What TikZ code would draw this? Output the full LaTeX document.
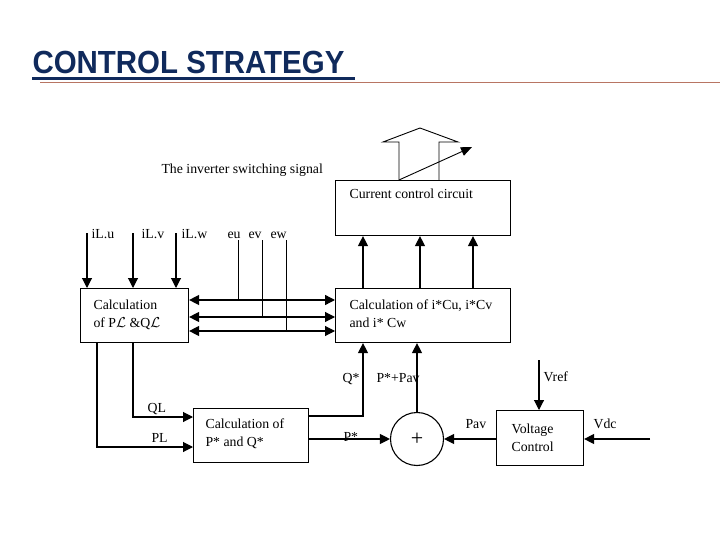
\documentclass[tikz,border=0pt]{standalone}
\usepackage{fontspec}
\setmainfont{Liberation Serif}
\newfontfamily\titlefont[FakeStretch=0.92]{Liberation Sans}
\usetikzlibrary{arrows.meta}
\definecolor{navy}{HTML}{102A5C}
\definecolor{rust}{HTML}{B87563}
\begin{document}
\begin{tikzpicture}[x=1pt,y=-1pt, line width=1.1pt,
  >={Triangle[length=10pt,width=10pt]},
  blk/.style={draw, line width=1.1pt, inner sep=0, anchor=north west},
  lbl/.style={font=\fontsize{13.8}{15}\selectfont, inner sep=0, anchor=base west},
  thin/.style={line width=0.9pt}]
\useasboundingbox (0,0) rectangle (720,540);
% title
\node[anchor=base west, text=navy, inner sep=0] (title) at (32,74)
  {\titlefont\bfseries\fontsize{32}{32}\selectfont CONTROL STRATEGY};
\draw[navy, line width=2.2pt] (32,78.5) -- (355,78.5);
\draw[rust, line width=1.4pt] (40,82.5) -- (720,82.5);
% boxes
\node[blk, minimum width=175pt, minimum height=55pt] (ccc) at (335,180) {};
\node[blk, minimum width=175pt, minimum height=54pt] (ic) at (335,288) {};
\node[blk, minimum width=108pt, minimum height=54pt] (pq) at (80,288) {};
\node[blk, minimum width=115pt, minimum height=54pt] (ps) at (193,408) {};
\node[blk, minimum width=87pt, minimum height=55pt] (vc) at (496,410) {};
\node[draw, circle, minimum size=53pt, inner sep=0, line width=1.1pt] (sum) at (417,439) {};
\node[inner sep=0, font=\fontsize{22}{22}\selectfont] (plus) at (sum.center) {+};
% box texts
\node[lbl] (tccc) at (349,199) {Current control circuit};
\node[lbl] (tic1) at (349,309) {Calculation of i*Cu, i*Cv};
\node[lbl] (tic2) at (349,327) {and i* Cw};
\node[lbl] (tpq1) at (93,309) {Calculation};
\node[lbl] (tpq2) at (93,327) {of P$\mathcal{L}$ \&Q$\mathcal{L}$};
\node[lbl] (tps1) at (205,428) {Calculation of};
\node[lbl] (tps2) at (205,446) {P* and Q*};
\node[lbl] (tvc1) at (511,433) {Voltage};
\node[lbl] (tvc2) at (511,451) {Control};
% labels
\node[lbl] (tsig) at (161,174) {The inverter switching signal};
\node[lbl] (liu) at (91,238) {iL.u};
\node[lbl] (liv) at (141,238) {iL.v};
\node[lbl] (liw) at (181,238) {iL.w};
\node[lbl] (leu) at (227,238) {eu};
\node[lbl] (lev) at (248,238) {ev};
\node[lbl] (lew) at (270,238) {ew};
\node[lbl] (lql) at (147,412) {QL};
\node[lbl] (lpl) at (151,442) {PL};
\node[lbl] (lqs) at (342,382) {Q*};
\node[lbl] (lps) at (376,382) {P*+Pav};
\node[lbl] (lp) at (343,441) {P*};
\node[lbl] (lpav) at (465,428) {Pav};
\node[lbl] (lvref) at (543,381) {Vref};
\node[lbl] (lvdc) at (593,428) {Vdc};
% inputs to PL&QL box
\coordinate (iu) at (87,233);
\coordinate (iv) at (133,233);
\coordinate (iw) at (176,233);
\draw[->] (iu) -- (iu |- pq.north);
\draw[->] (iv) -- (iv |- pq.north);
\draw[->] (iw) -- (iw |- pq.north);
% double arrows between boxes
\draw[<->, line width=1.4pt] (pq.east |- 0,300) -- (ic.west |- 0,300);
\draw[<->] (pq.east |- 0,317) -- (ic.west |- 0,317);
\draw[<->] (pq.east |- 0,331) -- (ic.west |- 0,331);
% e lines
\coordinate (eu) at (238,240);
\coordinate (ev) at (262,240);
\coordinate (ew) at (286,240);
\draw[thin] (eu) -- (eu |- 0,300);
\draw[thin] (ev) -- (ev |- 0,317);
\draw[thin] (ew) -- (ew |- 0,331);
% to current control circuit
\foreach \xx/\nm in {363/a,420/b,473/c}{
  \draw[->] (ic.north -| \xx,0) -- (ccc.south -| \xx,0);
}
% output hollow arrow
\coordinate (h1) at (399,180);
\coordinate (h2) at (439,180);
\draw[thin] (h1) -- (399,142) -- (383,142) -- (420,128) -- (458,142) -- (439,142) -- (h2);
\coordinate (diag) at (472,147);
\draw[->, thin, >={Triangle[length=11pt,width=9pt]}] (h1) -- (diag);
% PL, QL
\draw[->] (pq.south -| 97,0) |- (ps.west |- 0,447);
\draw[->] (pq.south -| 133,0) |- (ps.west |- 0,417);
% Q*, P*
\draw[->] (ps.east |- 0,416) -| (ic.south -| 363,0);
\draw[->] (ps.east |- 0,439) -- (sum.west);
\draw[->] (sum.north) -- (sum.north |- ic.south);
\draw[->] (vc.west |- sum) -- (sum.east);
\coordinate (vref) at (539,360);
\draw[->] (vref) -- (vref |- vc.north);
\coordinate (vdc) at (650,439);
\draw[->] (vdc) -- (vc.east |- vdc);
\end{tikzpicture}
\end{document}
